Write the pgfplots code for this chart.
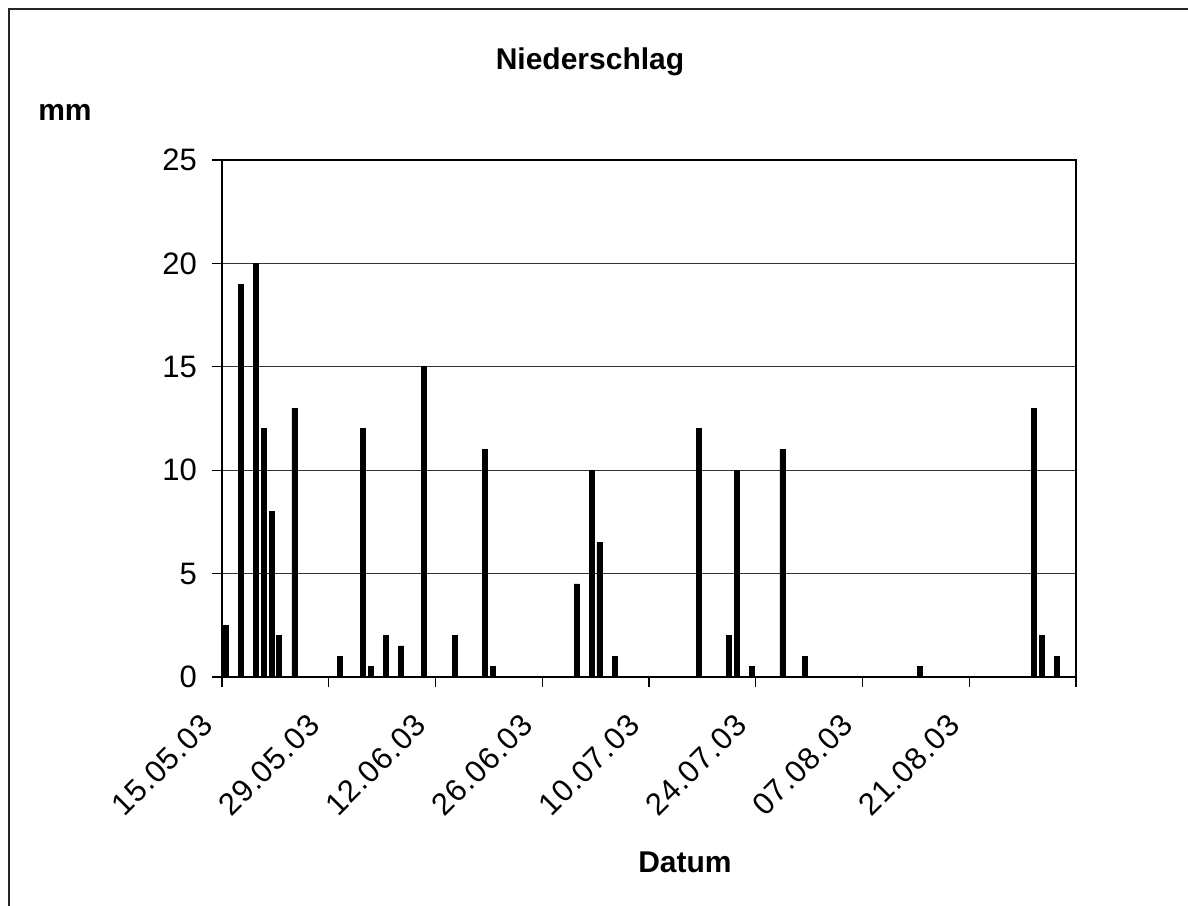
\documentclass[border=0pt]{standalone}
\usepackage{pgfplots}
\pgfplotsset{compat=1.18}
\usepackage{fontspec}
\setmainfont{Liberation Sans}

\pgfplotstableread{
day val
0.5 2.5
2.5 19
4.5 20
5.5 12
6.5 8
7.5 2
9.5 13
15.5 1
18.5 12
19.5 0.5
21.5 2
23.5 1.5
26.5 15
30.5 2
34.5 11
35.5 0.5
46.5 4.5
48.5 10
49.5 6.5
51.5 1
62.5 12
66.5 2
67.5 10
69.5 0.5
73.5 11
76.5 1
91.5 0.5
106.5 13
107.5 2
109.5 1
}\niederschlag

\begin{document}
\begin{tikzpicture}
  \useasboundingbox (0,0) rectangle (594bp,453bp);
  % outer frame (only left and top visible)
  \draw[line width=1bp, black!85] (4.5bp,0) -- (4.5bp,448.5bp) -- (594bp,448.5bp);
  \begin{axis}[
      at={(111bp,114.5bp)}, anchor=south west,
      scale only axis,
      width=427bp, height=258.5bp,
      xmin=0, xmax=112, ymin=0, ymax=25,
      xtick={0,14,...,112},
      xticklabels={15.05.03,29.05.03,12.06.03,26.06.03,10.07.03,24.07.03,07.08.03,21.08.03,},
      ytick={0,5,...,25},
      tick align=outside,
      major tick length=5bp,
      tick style={black, line width=0.6bp},
      xtick pos=bottom, ytick pos=left,
      axis line style={line width=1bp},
      ymajorgrids,
      grid style={black!80, line width=0.5bp},
      x tick label style={xshift=-5bp, yshift=-14bp, rotate=45, anchor=east,
        font=\fontsize{15.5bp}{18bp}\selectfont\addfontfeature{LetterSpace=3}},
      y tick label style={xshift=-4bp, font=\fontsize{15.5bp}{18bp}\selectfont},
      /pgf/number format/assume math mode=true,
    ]
    \addplot[ybar, bar width=0.65, fill=black, draw=black] table[x=day, y=val] {\niederschlag};
  \end{axis}
  \node[font=\bfseries\fontsize{15bp}{18bp}\selectfont] at (295bp,422bp) {Niederschlag};
  \node[font=\bfseries\fontsize{15bp}{18bp}\selectfont] at (32.5bp,397bp) {mm};
  \node[font=\bfseries\fontsize{15bp}{18bp}\selectfont] at (342.5bp,22bp) {Datum};
\end{tikzpicture}
\end{document}
